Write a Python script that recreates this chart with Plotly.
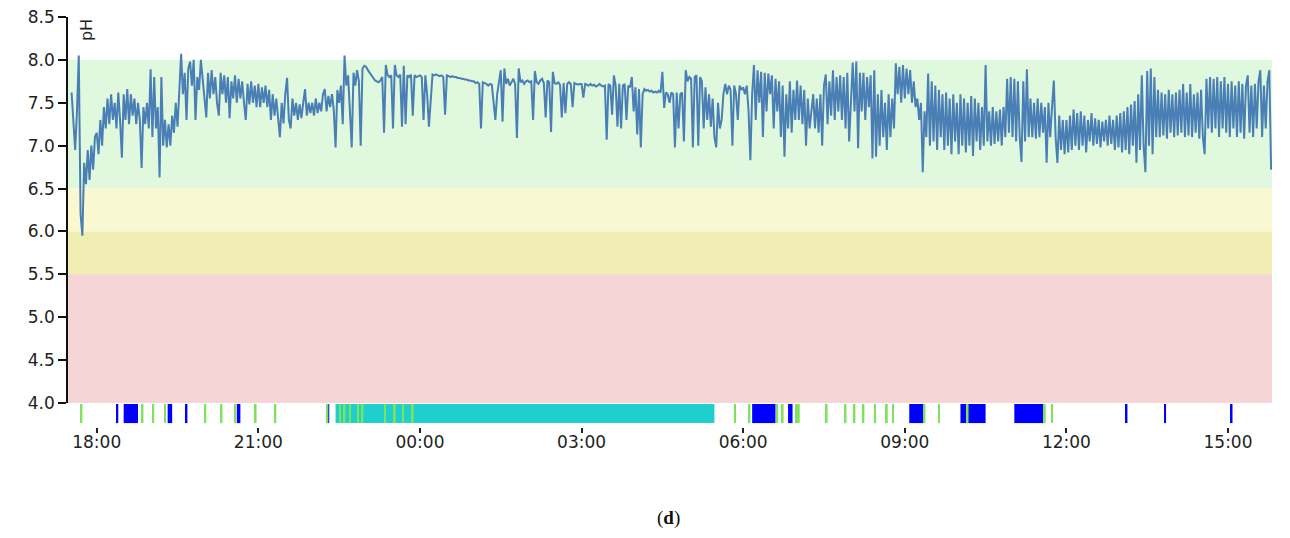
import pandas as pd
import plotly.graph_objects as go

# ---------------- data ----------------
ph_start = "2021-03-10 17:32"
ph_step_minutes = 2
ph_values = [
    # 17:32 - 17:58
    7.62, 7.30, 6.95, 7.40, 8.05, 6.20, 5.95, 6.80, 6.55, 6.95, 6.60, 7.00, 6.72, 7.10,
    # 18:00
    7.15, 6.90, 7.30, 7.00, 7.45, 7.20, 7.55, 7.25, 7.60, 7.30, 7.50, 7.20, 7.62, 7.30, 6.86,
    7.60, 7.30, 7.66, 7.25, 7.60, 7.35, 7.55, 7.25, 7.50, 7.30, 6.74, 7.45, 7.25, 7.50, 7.20,
    # 19:00
    7.89, 7.10, 7.80, 7.20, 7.45, 6.63, 7.80, 7.00, 7.30, 6.98, 7.25, 7.00, 7.35, 7.15, 7.50,
    7.22, 7.70, 8.07, 7.60, 7.85, 7.30, 7.90, 7.98, 7.70, 8.00, 7.30, 7.80, 7.65, 8.00, 7.75,
    # 20:00
    7.60, 7.33, 7.85, 7.55, 7.88, 7.60, 7.80, 7.50, 7.35, 7.85, 7.60, 7.82, 7.50, 7.80, 7.32,
    7.75, 7.55, 7.82, 7.50, 7.78, 7.55, 7.75, 7.50, 7.30, 7.72, 7.48, 7.75, 7.50, 7.70, 7.45,
    # 21:00
    7.72, 7.45, 7.68, 7.50, 7.70, 7.45, 7.65, 7.30, 7.60, 7.35, 7.55, 7.28, 7.10, 7.50, 7.26,
    7.60, 7.79, 7.30, 7.20, 7.55, 7.35, 7.50, 7.30, 7.48, 7.32, 7.50, 7.66, 7.35, 7.50, 7.38,
    # 22:00
    7.50, 7.35, 7.55, 7.38, 7.50, 7.40, 7.60, 7.66, 7.40, 7.58, 7.45, 7.60, 7.42, 6.98, 7.65,
    7.50, 7.70, 7.25, 8.05, 7.70, 7.82, 7.40, 6.98, 7.85, 7.70, 7.88, 7.75, 7.00, 7.90, 7.93,
    # 23:00
    7.92, 7.88, 7.85, 7.82, 7.78, 7.76, 7.75, 7.74, 7.76, 7.80, 7.15, 7.94, 7.82, 7.80, 7.82,
    7.20, 7.94, 7.82, 7.80, 7.83, 7.22, 7.93, 7.25, 7.82, 7.80, 7.83, 7.35, 7.82, 7.80, 7.81,
    # 00:00
    7.82, 7.80, 7.30, 7.82, 7.60, 7.22, 7.50, 7.83, 7.82, 7.83, 7.82, 7.81, 7.82, 7.80, 7.36,
    7.82, 7.81, 7.80, 7.81, 7.80, 7.80, 7.79, 7.79, 7.78, 7.78, 7.77, 7.77, 7.76, 7.76, 7.75,
    # 01:00
    7.75, 7.73, 7.74, 7.72, 7.20, 7.74, 7.73, 7.72, 7.70, 7.72, 7.71, 7.50, 7.30, 7.60, 7.75,
    7.88, 7.28, 7.90, 7.72, 7.78, 7.70, 7.75, 7.78, 7.72, 7.09, 7.90, 7.74, 7.76, 7.72, 7.75,
    # 02:00
    7.76, 7.74, 7.75, 7.30, 7.87, 7.74, 7.72, 7.76, 7.78, 7.73, 7.33, 7.76, 7.74, 7.16, 7.86,
    7.73, 7.72, 7.74, 7.71, 7.33, 7.73, 7.38, 7.72, 7.74, 7.72, 7.45, 7.73, 7.72, 7.71, 7.72,
    # 03:00
    7.72, 7.56, 7.72, 7.71, 7.70, 7.72, 7.70, 7.71, 7.69, 7.70, 7.72, 7.70, 7.69, 7.70, 7.07,
    7.72, 7.70, 7.36, 7.82, 7.70, 7.22, 7.72, 7.20, 7.70, 7.72, 7.30, 7.70, 7.68, 7.80, 7.40,
    # 04:00
    7.68, 7.13, 7.66, 6.98, 7.60, 7.66, 7.64, 7.65, 7.63, 7.64, 7.62, 7.63, 7.62, 7.64, 7.62,
    7.86, 7.44, 7.62, 7.60, 7.50, 7.62, 7.60, 6.98, 7.62, 7.20, 7.60, 7.62, 7.05, 7.88, 7.75,
    # 05:00
    7.80, 7.78, 6.98, 7.80, 7.82, 7.00, 7.80, 7.75, 7.20, 7.68, 7.30, 7.60, 7.22, 7.55, 7.10,
    6.98, 7.50, 7.20, 7.30, 7.60, 7.72, 7.60, 7.70, 7.65, 7.00, 7.70, 7.60, 7.30, 7.70, 7.65,
    # 06:00
    7.68, 7.60, 7.70, 7.40, 6.83, 7.60, 7.94, 7.30, 7.88, 7.50, 7.86, 7.10, 7.85, 7.40, 7.84,
    7.60, 7.82, 7.20, 7.78, 7.40, 7.75, 7.10, 7.70, 6.87, 7.60, 7.20, 7.75, 7.15, 7.65, 7.30,
    # 07:00
    7.76, 7.30, 7.70, 7.25, 7.65, 7.00, 7.55, 7.20, 7.45, 7.60, 7.20, 7.55, 7.15, 7.60, 7.00,
    7.70, 7.83, 7.25, 7.75, 7.35, 7.88, 7.30, 7.80, 7.40, 7.82, 7.30, 7.80, 7.20, 7.85, 7.05,
    # 08:00
    7.50, 7.97, 7.40, 7.98, 6.97, 7.85, 7.40, 7.85, 7.30, 7.80, 7.45, 7.82, 6.85, 7.88, 6.87,
    7.60, 7.00, 7.65, 7.10, 7.50, 6.95, 7.60, 7.10, 7.55, 7.20, 7.96, 7.60, 7.92, 7.50, 7.94,
    # 09:00
    7.55, 7.90, 7.60, 7.88, 7.50, 7.75, 7.45, 7.55, 7.30, 7.50, 6.69, 7.40, 7.10, 7.84, 7.00,
    7.75, 7.05, 7.70, 6.95, 7.65, 7.10, 7.60, 6.95, 7.62, 7.00, 7.55, 6.90, 7.60, 7.05, 7.50,
    # 10:00
    6.90, 7.60, 7.00, 7.55, 6.92, 7.50, 7.00, 7.58, 6.88, 7.55, 7.05, 7.50, 6.95, 7.45, 7.00,
    7.94, 7.05, 7.40, 7.00, 7.45, 7.02, 7.40, 7.05, 7.42, 7.00, 7.45, 7.10, 7.78, 7.15, 7.80,
    # 11:00
    7.10, 7.78, 7.05, 7.75, 7.10, 6.81, 7.75, 7.05, 7.89, 7.10, 7.55, 7.10, 7.50, 7.08, 7.55,
    7.10, 7.50, 7.15, 7.45, 6.80, 7.50, 7.10, 7.45, 7.76, 7.10, 6.80, 7.35, 6.95, 7.30, 6.90,
    # 12:00
    7.30, 6.92, 7.35, 6.95, 7.42, 7.00, 7.38, 6.95, 7.40, 7.00, 7.35, 6.92, 7.30, 7.05, 7.38,
    7.00, 7.32, 7.02, 7.30, 6.98, 7.28, 7.05, 7.30, 7.00, 7.35, 7.02, 7.30, 6.95, 7.35, 6.98,
    # 13:00
    7.38, 6.92, 7.40, 6.95, 7.45, 6.90, 7.48, 7.00, 7.52, 6.80, 7.60, 6.95, 7.82, 7.00, 6.69,
    7.87, 7.00, 7.90, 6.90, 7.80, 7.10, 7.65, 7.10, 7.62, 7.12, 7.60, 7.08, 7.65, 7.15, 7.60,
    # 14:00
    7.10, 7.62, 7.12, 7.65, 7.15, 7.72, 7.10, 7.62, 7.12, 7.72, 7.10, 7.60, 7.15, 7.62, 7.08,
    7.65, 7.10, 6.90, 7.78, 7.20, 7.80, 7.15, 7.78, 7.20, 7.80, 7.10, 7.75, 7.20, 7.80, 7.15,
    # 15:00 - 15:48
    7.72, 7.10, 7.75, 7.20, 7.70, 7.10, 7.75, 7.15, 7.72, 7.08, 7.70, 7.82, 7.15, 7.70, 7.10,
    7.72, 7.20, 7.75, 7.88, 7.10, 7.70, 7.20, 7.75, 7.88, 6.72,
]

# pH zones (lower, upper, colour)
zone_bounds = [(6.5, 8.0), (6.0, 6.5), (5.5, 6.0), (4.0, 5.5)]
zone_colors = ["#e0f8de", "#faf8d0", "#f0edb2", "#f5d5d5"]

# event strip
green_events = [
    "2021-03-10 17:43", "2021-03-10 18:51", "2021-03-10 19:03", "2021-03-10 19:16",
    "2021-03-10 20:01", "2021-03-10 20:19", "2021-03-10 20:34", "2021-03-10 20:57",
    "2021-03-10 21:19", "2021-03-10 22:17", "2021-03-10 22:31", "2021-03-10 22:36",
    "2021-03-10 22:42", "2021-03-10 22:51", "2021-03-10 22:56", "2021-03-10 23:21",
    "2021-03-10 23:32", "2021-03-10 23:41", "2021-03-10 23:52",
    "2021-03-11 05:51", "2021-03-11 06:07", "2021-03-11 06:38", "2021-03-11 06:44",
    "2021-03-11 06:59", "2021-03-11 07:02", "2021-03-11 07:33", "2021-03-11 07:54",
    "2021-03-11 08:04", "2021-03-11 08:14", "2021-03-11 08:27", "2021-03-11 08:40",
    "2021-03-11 08:47", "2021-03-11 09:22", "2021-03-11 09:38", "2021-03-11 10:10",
    "2021-03-11 11:36", "2021-03-11 11:44",
]
blue_events = [
    "2021-03-10 18:23", "2021-03-10 19:40", "2021-03-10 22:18",
    "2021-03-11 13:07", "2021-03-11 13:50", "2021-03-11 15:04",
]
blue_periods = [
    ("2021-03-10 18:30", "2021-03-10 18:46"),
    ("2021-03-10 19:19", "2021-03-10 19:24"),
    ("2021-03-10 20:36", "2021-03-10 20:40"),
    ("2021-03-11 06:10", "2021-03-11 06:36"),
    ("2021-03-11 06:50", "2021-03-11 06:55"),
    ("2021-03-11 09:05", "2021-03-11 09:21"),
    ("2021-03-11 10:02", "2021-03-11 10:30"),
    ("2021-03-11 11:02", "2021-03-11 11:34"),
]
cyan_periods = [("2021-03-10 22:26", "2021-03-11 05:28")]

x_range = ["2021-03-10 17:28", "2021-03-11 15:49"]
tick_start = "2021-03-10 18:00"

# ---------------- figure ----------------
ph_times = pd.date_range(ph_start, periods=len(ph_values), freq=f"{ph_step_minutes}min")

fig = go.Figure()

for (lo, hi), col in zip(zone_bounds, zone_colors):
    fig.add_shape(type="rect", xref="x domain", yref="y", x0=0, x1=1, y0=lo, y1=hi,
                  fillcolor=col, line_width=0, layer="below")

fig.add_trace(go.Scatter(x=ph_times, y=ph_values, mode="lines",
                         line=dict(color="#4a7fb5", width=2),
                         xaxis="x", yaxis="y", showlegend=False))

STRIP_BASE, STRIP_H = 0.17, 0.83
MARK_HALF = pd.Timedelta(minutes=1)


def period_bars(periods, color):
    s = pd.to_datetime([p[0] for p in periods])
    e = pd.to_datetime([p[1] for p in periods])
    mid = s + (e - s) / 2
    width = [(b - a).total_seconds() * 1000 for a, b in zip(s, e)]
    return go.Bar(x=list(mid), y=[STRIP_H] * len(periods), base=STRIP_BASE, width=width,
                  marker=dict(color=color, line=dict(width=0)),
                  xaxis="x", yaxis="y2", showlegend=False)


def mark_periods(times):
    t = pd.to_datetime(times)
    return [(str(a - MARK_HALF), str(a + MARK_HALF)) for a in t]


fig.add_trace(period_bars(cyan_periods, "#1fcfcf"))
fig.add_trace(period_bars(blue_periods, "#0000ff"))
fig.add_trace(period_bars(mark_periods(blue_events), "#0000ff"))
fig.add_trace(period_bars(mark_periods(green_events), "#7be35c"))

# the page body has an 8px margin, so the figure is sized/placed to compensate
H_TOT = 410.0          # plot height in px
PLOT_BOTTOM = 419.0    # in figure px
main_lo = (PLOT_BOTTOM - 395) / H_TOT
strip_hi = (PLOT_BOTTOM - 396) / H_TOT

tick_font = dict(family="DejaVu Sans", size=17, color="#222222")

fig.update_layout(
    width=1274, height=522,
    margin=dict(l=60, r=10, t=9, b=103, autoexpand=False),
    paper_bgcolor="white", plot_bgcolor="white",
    barmode="overlay",
    xaxis=dict(type="date", range=x_range, anchor="y2",
               tick0=tick_start, dtick=3 * 3600 * 1000, tickformat="%H:%M",
               ticks="outside", ticklen=5, tickwidth=1.5, tickcolor="#222222",
               showline=False, showgrid=False, zeroline=False, tickfont=tick_font,
               ticklabelstandoff=-5),
    yaxis=dict(domain=[main_lo, 1], range=[4.0, 8.5], anchor="x",
               tickvals=[4.0, 4.5, 5.0, 5.5, 6.0, 6.5, 7.0, 7.5, 8.0, 8.5],
               tickformat=".1f", ticks="outside", ticklen=8, tickwidth=1.5,
               tickcolor="#111111", showline=True, linecolor="#111111", linewidth=1.5,
               showgrid=False, zeroline=False, tickfont=tick_font, ticklabelstandoff=0,
               ticklabeloverflow="allow"),
    yaxis2=dict(domain=[0, strip_hi], range=[0, 1], anchor="x", visible=False,
                fixedrange=True),
    annotations=[
        dict(text="pH", xref="paper", yref="paper", x=0.015, y=1.0, xanchor="center",
             yanchor="top", textangle=-90, showarrow=False,
             font=dict(family="DejaVu Sans", size=16, color="#222222")),
        dict(text="(<b>d</b>)", xref="paper", yref="paper", x=0.4985,
             y=(PLOT_BOTTOM - 510) / H_TOT,
             xanchor="center", yanchor="middle", showarrow=False,
             font=dict(family="Liberation Serif", size=19, color="#111111")),
    ],
)

fig.write_html("out.html")
